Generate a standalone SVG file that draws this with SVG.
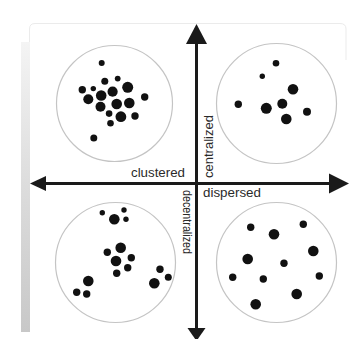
<svg xmlns="http://www.w3.org/2000/svg" width="350" height="339" viewBox="0 0 350 339">
<style>
.ring{fill:none;stroke:#c4c4c4;stroke-width:1.2}
.dot{fill:#111}
.axis{stroke:#1a1a1a;stroke-width:3;fill:none}
.head{fill:#1a1a1a}
.lbl{font-family:"Liberation Sans",Arial,sans-serif;font-size:12px;fill:#2a2a2a}
</style>
<defs>
<linearGradient id="bar" x1="0" y1="0" x2="0" y2="1">
<stop offset="0" stop-color="#f4f4f4"/>
<stop offset="0.5" stop-color="#dcdcdc"/>
<stop offset="1" stop-color="#c8c8c8"/>
</linearGradient>
</defs>
<rect width="350" height="339" fill="#ffffff"/>
<g id="frame">
<path d="M29.5,42 V29 Q29.5,23.5 35,23.5 H340 Q346,23.5 346,29 V60" fill="none" stroke="#ebebeb" stroke-width="1"/>
<rect x="21" y="42" width="9" height="290" fill="url(#bar)"/>
</g>
<g id="clustered-quadrant">
<circle class="ring" cx="114.5" cy="103.5" r="58"/>
<circle class="dot" cx="101.7" cy="63" r="3"/>
<circle class="dot" cx="104.8" cy="81.3" r="3.5"/>
<circle class="dot" cx="117.7" cy="78.6" r="2.9"/>
<circle class="dot" cx="127.7" cy="87.3" r="5.5"/>
<circle class="dot" cx="82.3" cy="89.8" r="3.7"/>
<circle class="dot" cx="93.3" cy="88.6" r="2.7"/>
<circle class="dot" cx="112.6" cy="91.7" r="5.1"/>
<circle class="dot" cx="101.2" cy="95.5" r="5.3"/>
<circle class="dot" cx="88.3" cy="99.3" r="5"/>
<circle class="dot" cx="116.7" cy="104" r="5.3"/>
<circle class="dot" cx="129.3" cy="103" r="5.3"/>
<circle class="dot" cx="144.7" cy="97" r="3.7"/>
<circle class="dot" cx="100.5" cy="106.7" r="5"/>
<circle class="dot" cx="109.1" cy="113.6" r="3.3"/>
<circle class="dot" cx="120.9" cy="116.7" r="5.4"/>
<circle class="dot" cx="135" cy="116" r="3.7"/>
<circle class="dot" cx="110.5" cy="123.3" r="3.3"/>
<circle class="dot" cx="93.8" cy="138" r="3.5"/>
</g>
<g id="centralized-quadrant">
<circle class="ring" cx="276.5" cy="103.5" r="60"/>
<circle class="dot" cx="276" cy="63.3" r="3.3"/>
<circle class="dot" cx="262.3" cy="76.3" r="2.7"/>
<circle class="dot" cx="293" cy="89.3" r="5.3"/>
<circle class="dot" cx="238.3" cy="104.3" r="3.7"/>
<circle class="dot" cx="282.3" cy="103.7" r="5"/>
<circle class="dot" cx="266.3" cy="108.3" r="5.5"/>
<circle class="dot" cx="307" cy="111.7" r="4"/>
<circle class="dot" cx="286.3" cy="119" r="5.3"/>
</g>
<g id="decentralized-quadrant">
<circle class="ring" cx="115.5" cy="262.5" r="60"/>
<circle class="dot" cx="102.3" cy="212.7" r="2.7"/>
<circle class="dot" cx="124" cy="210" r="2.7"/>
<circle class="dot" cx="114.3" cy="219.3" r="5.3"/>
<circle class="dot" cx="126" cy="219.3" r="2.7"/>
<circle class="dot" cx="120.7" cy="247.7" r="5.3"/>
<circle class="dot" cx="107.3" cy="252.3" r="3.7"/>
<circle class="dot" cx="116" cy="261" r="5.3"/>
<circle class="dot" cx="131.3" cy="257.7" r="3.7"/>
<circle class="dot" cx="127.7" cy="267.7" r="3.7"/>
<circle class="dot" cx="116.7" cy="273.3" r="3.7"/>
<circle class="dot" cx="88.3" cy="281" r="5.3"/>
<circle class="dot" cx="76.7" cy="292.3" r="3.7"/>
<circle class="dot" cx="86.7" cy="294" r="3.7"/>
<circle class="dot" cx="160" cy="269.3" r="3.7"/>
<circle class="dot" cx="168.3" cy="277.3" r="3.5"/>
<circle class="dot" cx="154.3" cy="283.3" r="5.3"/>
</g>
<g id="dispersed-quadrant">
<circle class="ring" cx="276.5" cy="262.5" r="60"/>
<circle class="dot" cx="250.7" cy="227.3" r="3.7"/>
<circle class="dot" cx="274" cy="234.3" r="5.3"/>
<circle class="dot" cx="303.3" cy="224.3" r="3.7"/>
<circle class="dot" cx="313.3" cy="251" r="5.3"/>
<circle class="dot" cx="247.7" cy="259" r="5.3"/>
<circle class="dot" cx="284" cy="263.3" r="3.7"/>
<circle class="dot" cx="232.7" cy="277.3" r="3.7"/>
<circle class="dot" cx="263.3" cy="279" r="3.7"/>
<circle class="dot" cx="319.3" cy="276" r="3.7"/>
<circle class="dot" cx="296.7" cy="294" r="5.3"/>
<circle class="dot" cx="255.7" cy="304.3" r="5.3"/>
</g>
<g id="connectors">
<line class="axis" x1="196.5" y1="42" x2="196.5" y2="330"/>
<line class="axis" x1="44" y1="183.5" x2="331" y2="183.5"/>
<polygon class="head" points="196.5,24 186,44 207,44"/>
<polygon class="head" points="196.5,341 187.5,328 205.5,328"/>
<polygon class="head" points="30,183.5 46,176 46,191"/>
<polygon class="head" points="349,183.5 329,173.5 329,193.5"/>
</g>
<g id="labels">
<text class="lbl" x="131" y="177" textLength="54" lengthAdjust="spacingAndGlyphs">clustered</text>
<text class="lbl" x="203" y="197" textLength="58" lengthAdjust="spacingAndGlyphs">dispersed</text>
<text class="lbl" transform="translate(212.5,178) rotate(-90)" textLength="63" lengthAdjust="spacingAndGlyphs">centralized</text>
<text class="lbl" transform="translate(182.5,190) rotate(90)" textLength="64" lengthAdjust="spacingAndGlyphs">decentralized</text>
</g>
</svg>
